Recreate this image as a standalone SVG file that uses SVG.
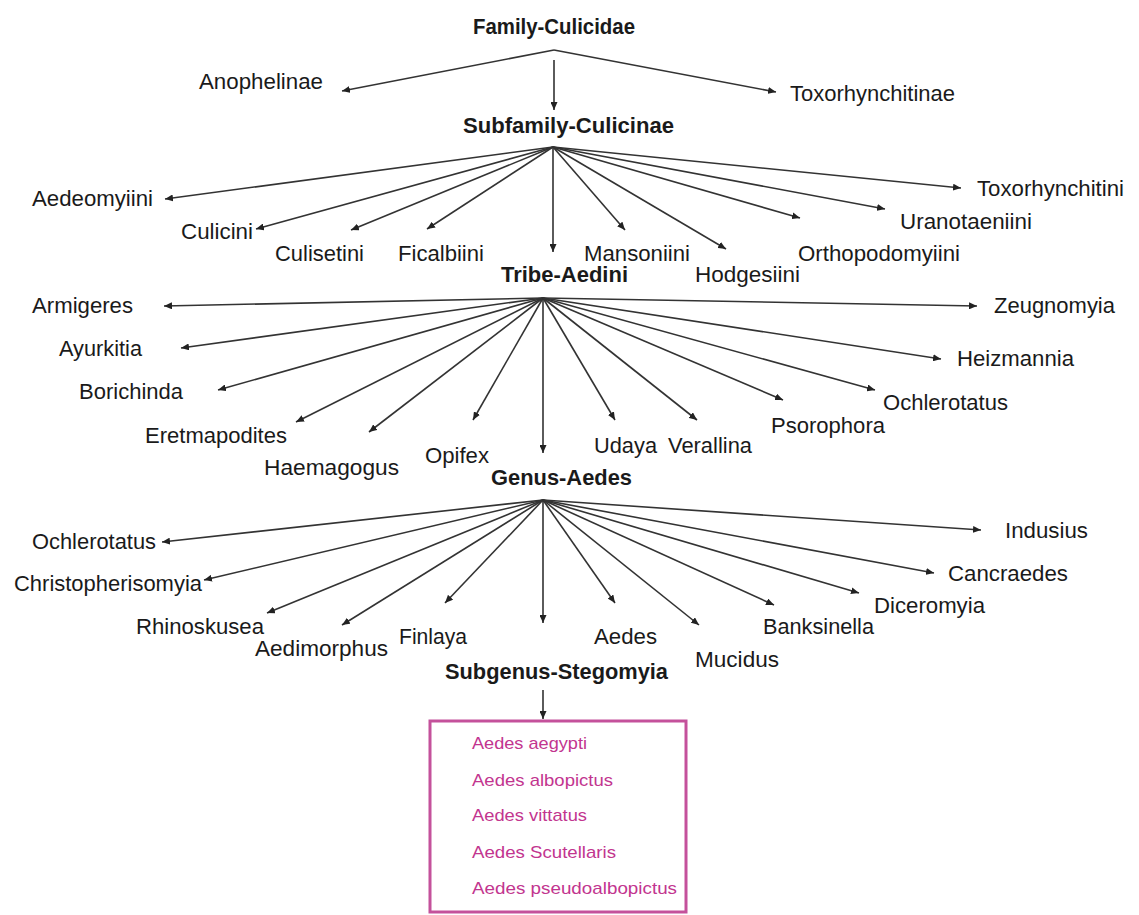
<svg xmlns="http://www.w3.org/2000/svg" width="1139" height="915" viewBox="0 0 1139 915">
<style>
text{font-family:"Liberation Sans",Arial,sans-serif;fill:#1a1a1a}
.h{font-size:22px;font-weight:bold}
.n{font-size:22px}
.s{font-size:17px;fill:#c2358f}
.c line{stroke:#333;stroke-width:1.6;marker-end:url(#a)}
</style>
<defs>
<marker id="a" viewBox="0 0 8 7" refX="8" refY="3.5" markerWidth="8" markerHeight="7" markerUnits="userSpaceOnUse" orient="auto"><path d="M0,0 L8,3.5 L0,7 z" fill="#222"/></marker>
</defs>
<rect width="1139" height="915" fill="#fff"/>
<g class="c" id="connectors">
<line x1="554" y1="50" x2="342" y2="91"/>
<line x1="554" y1="50" x2="776" y2="92"/>
<line x1="554" y1="60" x2="554" y2="110"/>
<line x1="553" y1="147" x2="165" y2="199"/>
<line x1="553" y1="147" x2="256" y2="229"/>
<line x1="553" y1="147" x2="351" y2="230"/>
<line x1="553" y1="147" x2="427" y2="229"/>
<line x1="553" y1="147" x2="553" y2="252"/>
<line x1="553" y1="147" x2="625" y2="230"/>
<line x1="553" y1="147" x2="726" y2="249"/>
<line x1="553" y1="147" x2="800" y2="218"/>
<line x1="553" y1="147" x2="885" y2="209"/>
<line x1="553" y1="147" x2="961" y2="188"/>
<line x1="543" y1="298" x2="164" y2="306"/>
<line x1="543" y1="298" x2="181" y2="348"/>
<line x1="543" y1="298" x2="218" y2="390"/>
<line x1="543" y1="298" x2="296" y2="422"/>
<line x1="543" y1="298" x2="369" y2="432"/>
<line x1="543" y1="298" x2="473" y2="420"/>
<line x1="543" y1="298" x2="543" y2="453"/>
<line x1="543" y1="298" x2="615" y2="420"/>
<line x1="543" y1="298" x2="697" y2="420"/>
<line x1="543" y1="298" x2="783" y2="400"/>
<line x1="543" y1="298" x2="875" y2="390"/>
<line x1="543" y1="298" x2="941" y2="359"/>
<line x1="543" y1="298" x2="977" y2="306"/>
<line x1="543" y1="500" x2="162" y2="542"/>
<line x1="543" y1="500" x2="204" y2="580"/>
<line x1="543" y1="500" x2="267" y2="613"/>
<line x1="543" y1="500" x2="342" y2="625"/>
<line x1="543" y1="500" x2="445" y2="603"/>
<line x1="543" y1="500" x2="543" y2="623"/>
<line x1="543" y1="500" x2="615" y2="603"/>
<line x1="543" y1="500" x2="699" y2="625"/>
<line x1="543" y1="500" x2="774" y2="605"/>
<line x1="543" y1="500" x2="859" y2="593"/>
<line x1="543" y1="500" x2="934" y2="573"/>
<line x1="543" y1="500" x2="981" y2="530"/>
<line x1="543" y1="690" x2="543" y2="719"/>
</g>
<g id="family"><text class="h" x="473" y="34" textLength="162" lengthAdjust="spacingAndGlyphs">Family-Culicidae</text></g>
<g id="anophelinae"><text class="n" x="199" y="89" textLength="124" lengthAdjust="spacingAndGlyphs">Anophelinae</text></g>
<g id="toxorhynchitinae"><text class="n" x="790" y="101" textLength="165" lengthAdjust="spacingAndGlyphs">Toxorhynchitinae</text></g>
<g id="subfamily"><text class="h" x="463" y="133" textLength="211" lengthAdjust="spacingAndGlyphs">Subfamily-Culicinae</text></g>
<g id="aedeomyiini"><text class="n" x="32" y="206" textLength="121" lengthAdjust="spacingAndGlyphs">Aedeomyiini</text></g>
<g id="culicini"><text class="n" x="181" y="239" textLength="72" lengthAdjust="spacingAndGlyphs">Culicini</text></g>
<g id="culisetini"><text class="n" x="275" y="261" textLength="89" lengthAdjust="spacingAndGlyphs">Culisetini</text></g>
<g id="ficalbiini"><text class="n" x="398" y="261" textLength="86" lengthAdjust="spacingAndGlyphs">Ficalbiini</text></g>
<g id="mansoniini"><text class="n" x="584" y="261" textLength="106" lengthAdjust="spacingAndGlyphs">Mansoniini</text></g>
<g id="hodgesiini"><text class="n" x="695" y="282" textLength="105" lengthAdjust="spacingAndGlyphs">Hodgesiini</text></g>
<g id="orthopodomyiini"><text class="n" x="798" y="261" textLength="162" lengthAdjust="spacingAndGlyphs">Orthopodomyiini</text></g>
<g id="uranotaeniini"><text class="n" x="900" y="229" textLength="132" lengthAdjust="spacingAndGlyphs">Uranotaeniini</text></g>
<g id="toxorhynchitini"><text class="n" x="977" y="196" textLength="147" lengthAdjust="spacingAndGlyphs">Toxorhynchitini</text></g>
<g id="tribe"><text class="h" x="501" y="282" textLength="127" lengthAdjust="spacingAndGlyphs">Tribe-Aedini</text></g>
<g id="armigeres"><text class="n" x="32" y="313" textLength="101" lengthAdjust="spacingAndGlyphs">Armigeres</text></g>
<g id="ayurkitia"><text class="n" x="59" y="356" textLength="83" lengthAdjust="spacingAndGlyphs">Ayurkitia</text></g>
<g id="borichinda"><text class="n" x="79" y="399" textLength="104" lengthAdjust="spacingAndGlyphs">Borichinda</text></g>
<g id="eretmapodites"><text class="n" x="145" y="443" textLength="142" lengthAdjust="spacingAndGlyphs">Eretmapodites</text></g>
<g id="haemagogus"><text class="n" x="264" y="475" textLength="135" lengthAdjust="spacingAndGlyphs">Haemagogus</text></g>
<g id="opifex"><text class="n" x="425" y="463" textLength="64" lengthAdjust="spacingAndGlyphs">Opifex</text></g>
<g id="udaya"><text class="n" x="594" y="453" textLength="63" lengthAdjust="spacingAndGlyphs">Udaya</text></g>
<g id="verallina"><text class="n" x="668" y="453" textLength="84" lengthAdjust="spacingAndGlyphs">Verallina</text></g>
<g id="psorophora"><text class="n" x="771" y="433" textLength="114" lengthAdjust="spacingAndGlyphs">Psorophora</text></g>
<g id="ochlerotatus-r"><text class="n" x="883" y="410" textLength="125" lengthAdjust="spacingAndGlyphs">Ochlerotatus</text></g>
<g id="heizmannia"><text class="n" x="957" y="366" textLength="117" lengthAdjust="spacingAndGlyphs">Heizmannia</text></g>
<g id="zeugnomyia"><text class="n" x="994" y="313" textLength="121" lengthAdjust="spacingAndGlyphs">Zeugnomyia</text></g>
<g id="genus"><text class="h" x="491" y="485" textLength="141" lengthAdjust="spacingAndGlyphs">Genus-Aedes</text></g>
<g id="ochlerotatus-l"><text class="n" x="32" y="549" textLength="124" lengthAdjust="spacingAndGlyphs">Ochlerotatus</text></g>
<g id="christopherisomyia"><text class="n" x="14" y="591" textLength="188" lengthAdjust="spacingAndGlyphs">Christopherisomyia</text></g>
<g id="rhinoskusea"><text class="n" x="136" y="634" textLength="128" lengthAdjust="spacingAndGlyphs">Rhinoskusea</text></g>
<g id="aedimorphus"><text class="n" x="255" y="656" textLength="133" lengthAdjust="spacingAndGlyphs">Aedimorphus</text></g>
<g id="finlaya"><text class="n" x="399" y="644" textLength="68" lengthAdjust="spacingAndGlyphs">Finlaya</text></g>
<g id="aedes"><text class="n" x="594" y="644" textLength="63" lengthAdjust="spacingAndGlyphs">Aedes</text></g>
<g id="mucidus"><text class="n" x="695" y="667" textLength="84" lengthAdjust="spacingAndGlyphs">Mucidus</text></g>
<g id="banksinella"><text class="n" x="763" y="634" textLength="111" lengthAdjust="spacingAndGlyphs">Banksinella</text></g>
<g id="diceromyia"><text class="n" x="874" y="613" textLength="111" lengthAdjust="spacingAndGlyphs">Diceromyia</text></g>
<g id="cancraedes"><text class="n" x="948" y="581" textLength="120" lengthAdjust="spacingAndGlyphs">Cancraedes</text></g>
<g id="indusius"><text class="n" x="1005" y="538" textLength="83" lengthAdjust="spacingAndGlyphs">Indusius</text></g>
<g id="subgenus"><text class="h" x="445" y="679" textLength="223" lengthAdjust="spacingAndGlyphs">Subgenus-Stegomyia</text></g>
<g id="species">
<rect x="430" y="721" width="256" height="191" fill="none" stroke="#c4519b" stroke-width="3"/>
<text class="s" x="472" y="749" textLength="115" lengthAdjust="spacingAndGlyphs">Aedes aegypti</text>
<text class="s" x="472" y="786" textLength="141" lengthAdjust="spacingAndGlyphs">Aedes albopictus</text>
<text class="s" x="472" y="821" textLength="115" lengthAdjust="spacingAndGlyphs">Aedes vittatus</text>
<text class="s" x="472" y="858" textLength="144" lengthAdjust="spacingAndGlyphs">Aedes Scutellaris</text>
<text class="s" x="472" y="894" textLength="205" lengthAdjust="spacingAndGlyphs">Aedes pseudoalbopictus</text>
</g>
</svg>
